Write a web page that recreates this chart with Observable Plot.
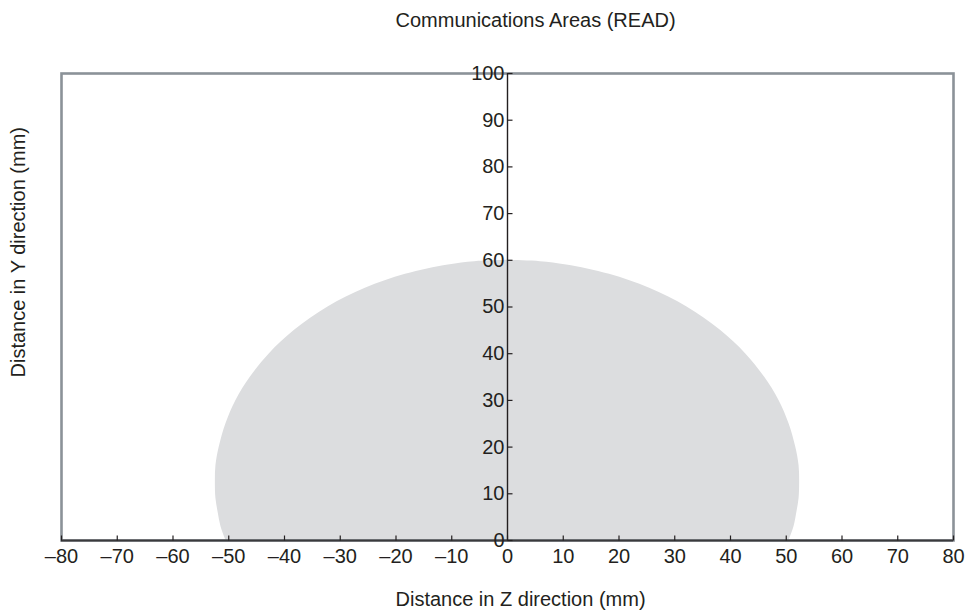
<!DOCTYPE html>
<html>
<head>
<meta charset="utf-8">
<script src="https://cdn.jsdelivr.net/npm/d3@7"></script>
<script src="https://cdn.jsdelivr.net/npm/@observablehq/plot@0.6"></script>
<style>
  html, body { margin: 0; padding: 0; background: #fff; }
</style>
</head>
<body>
<div id="chart"></div>
<script>
// Communication area boundary: distance in Y (mm) and
// the Z extent (mm) of the grey area at that height.
const areaY      = [0,     3,     6,     9,     12.5,  16,    20,    25,    30,    35,    40,    45,    50,    54,    57,    59,    59.7,  60];
const areaLeftZ  = [-50.5, -51.4, -51.9, -52.3, -52.4, -52.3, -51.7, -50.5, -48.7, -46.1, -42.7, -38.2, -32.2, -25.5, -18.3, -10.6, -5.9,  0];
const areaRightZ = [50.5,  51.4,  51.9,  52.3,  52.4,  52.3,  51.7,  50.5,  48.7,  46.1,  42.7,  38.2,  32.2,  25.5,  18.3,  10.6,  5.9,   0];

// Axes
const xTicks      = [-80, -70, -60, -50, -40, -30, -20, -10, 0, 10, 20, 30, 40, 50, 60, 70, 80];
const xTickLabels = ["–80", "–70", "–60", "–50", "–40", "–30", "–20", "–10", "0", "10", "20", "30", "40", "50", "60", "70", "80"];
const yTicks      = [0, 10, 20, 30, 40, 50, 60, 70, 80, 90, 100];
const yTickLabels = ["0", "10", "20", "30", "40", "50", "60", "70", "80", "90", "100"];

const titleText = ["Communications Areas (READ)"];
const xLabel    = ["Distance in Z direction (mm)"];
const yLabel    = ["Distance in Y direction (mm)"];

const areaRows = areaY.map((y, i) => ({y, left: areaLeftZ[i], right: areaRightZ[i]}));
const xTickRows = xTicks.map((v, i) => ({v, label: xTickLabels[i]}));
const yTickRows = yTicks.map((v, i) => ({v, label: yTickLabels[i]}));

const ink = "#231f20";
const hTick = {draw(ctx) { ctx.moveTo(0, 0); ctx.lineTo(5, 0); }};
const vTick = {draw(ctx) { ctx.moveTo(0, 0); ctx.lineTo(0, -5); }};

const chart = Plot.plot({
  width: 967,
  height: 610,
  marginTop: 73,
  marginBottom: 70,
  marginLeft: 61,
  marginRight: 14,
  style: {fontFamily: "'Liberation Sans', Arial, Helvetica, sans-serif", fontSize: "20px", background: "#fff", color: ink},
  x: {domain: [-80, 80], axis: null},
  y: {domain: [0, 100], axis: null},
  marks: [
    Plot.areaX(areaRows, {y: "y", x1: "left", x2: "right", fill: "#dcdddf", curve: "catmull-rom"}),
    Plot.frame({stroke: "#8b9298", strokeWidth: 2.6}),
    Plot.ruleX([0], {stroke: ink, strokeWidth: 1.4}),
    Plot.ruleY([0], {stroke: "#3a3a3c", strokeWidth: 2.2}),
    // y ticks on the centre line, pointing right
    Plot.dot(yTickRows, {x: () => 0, y: "v", symbol: hTick, stroke: ink, strokeWidth: 1.2, fill: "none"}),
    Plot.text(yTickRows, {x: () => 0, y: "v", text: "label", textAnchor: "end", lineAnchor: "middle", dx: -3, fontSize: 20, fill: ink}),
    // x ticks on the bottom line, pointing up
    Plot.dot(xTickRows, {x: "v", frameAnchor: "bottom", symbol: vTick, stroke: ink, strokeWidth: 1.2, fill: "none"}),
    Plot.text(xTickRows, {x: "v", frameAnchor: "bottom", lineAnchor: "middle", text: "label", dy: 16, fontSize: 20, fill: ink}),
    // title and axis labels
    Plot.text(titleText, {frameAnchor: "top-left", textAnchor: "start", lineAnchor: "middle", dx: 334, dy: -52.5, fontSize: 20, fill: ink}),
    Plot.text(xLabel, {frameAnchor: "bottom-left", textAnchor: "start", lineAnchor: "middle", dx: 334, dy: 59, fontSize: 20, fill: ink}),
    Plot.text(yLabel, {frameAnchor: "left", textAnchor: "start", lineAnchor: "middle", rotate: -90, dx: -42.5, dy: 70.5, fontSize: 20, fill: ink})
  ]
});
document.getElementById("chart").appendChild(chart);
</script>
</body>
</html>
